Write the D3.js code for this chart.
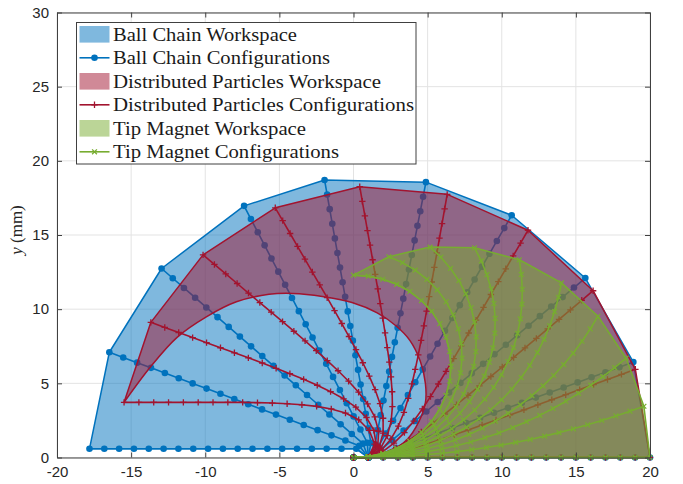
<!DOCTYPE html>
<html>
<head>
<meta charset="utf-8">
<script src="https://cdn.jsdelivr.net/npm/d3@7"></script>
<style>
  body { margin: 0; background: #fff; }
  svg { display: block; }
</style>
</head>
<body>
<svg id="chart" width="683" height="484"></svg>
<script>
// Node spacing along every chain (mm)
const SEG = 1;

// Ball chain: heading of the straight part per configuration (deg) and
// the fraction of that heading taken by each of the 20 links
const blueAngles  = [0, 20, 40, 60, 79, 100, 117.5, 139, 159.5, 180];
const blueProfile = [0, 0.8, 1, 1, 1, 1, 1, 1, 1, 1, 1, 1, 1, 1, 1, 1, 1, 1, 1, 1];

// Distributed particles: field angle per configuration and link heading fractions
const redAngles  = [0, 20, 40, 60, 80, 100, 120, 140, 160, 180];
const redProfile = [0, 0.36, 0.62, 0.75, 0.85, 0.91, 0.945, 0.965, 0.978, 0.986,
                    0.991, 0.995, 0.998, 1, 1, 1, 1, 1, 1, 1];
// Inner edge of the distributed-particles workspace (mm), tip side to base
const redInnerX = [-13.7, -11.9, -9.9, -7.9, -5.7, -4.1, -2.1, -0.1, 1.6, 2.9,
                   3.8, 4.5, 4.85, 4.85, 4.4, 3.6, 2.3, 1.1];
const redInnerY = [6.1, 8.1, 9.5, 10.5, 11.0, 11.06, 10.86, 10.45, 9.75, 8.85,
                   7.9, 6.5, 5.0, 3.7, 2.4, 1.2, 0.35, 0.05];

// Tip magnet: tip angle per configuration and link heading fractions
const greenAngles  = [0, 20, 40, 60, 80, 100, 120, 140, 160, 180];
const greenProfile = [0.0215, 0.0658, 0.112, 0.1598, 0.2092, 0.2601, 0.3121, 0.3651,
                      0.4188, 0.4729, 0.5271, 0.5812, 0.6349, 0.6879, 0.7399, 0.7908,
                      0.8402, 0.888, 0.9342, 0.9785];

const xTicks = [-20, -15, -10, -5, 0, 5, 10, 15, 20];
const yTicks = [0, 5, 10, 15, 20, 25, 30];

const legendLabels = [
  "Ball Chain Workspace", "Ball Chain Configurations",
  "Distributed Particles Workspace", "Distributed Particles Configurations",
  "Tip Magnet Workspace", "Tip Magnet Configurations"
];

const COL = { blue: "#0072BD", red: "#A2142F", green: "#77AC30" };

// ---------------------------------------------------------------------------
const svg = d3.select("#chart");
const x = d3.scaleLinear().domain([-20, 20]).range([57, 650]);
const y = d3.scaleLinear().domain([0, 30]).range([457.5, 12.5]);

// chain nodes from the clamped base at the origin
function chain(angle, profile) {
  const pts = [[0, 0]];
  let px = 0, py = 0;
  profile.forEach(g => {
    const h = angle * g * Math.PI / 180;
    px += SEG * Math.cos(h);
    py += SEG * Math.sin(h);
    pts.push([px, py]);
  });
  return pts;
}

const blueCfg  = blueAngles.map(a => chain(a, blueProfile));
const redCfg   = redAngles.map(a => chain(a, redProfile));
const greenCfg = greenAngles.map(a => chain(a, greenProfile));

const line = d3.line().x(d => x(d[0])).y(d => y(d[1]));
const smooth = d3.line().x(d => x(d[0])).y(d => y(d[1])).curve(d3.curveCatmullRom.alpha(0.5));

// grid
const grid = svg.append("g").attr("stroke", "#e3e3e3").attr("stroke-width", 1);
xTicks.forEach(t => grid.append("line")
  .attr("x1", x(t)).attr("x2", x(t)).attr("y1", y(0)).attr("y2", y(30)));
yTicks.forEach(t => grid.append("line")
  .attr("x1", x(-20)).attr("x2", x(20)).attr("y1", y(t)).attr("y2", y(t)));

// workspace outlines: tips of all configurations, then back along the last one
function workspace(cfgs) {
  const tips = cfgs.map(c => c[c.length - 1]);
  const back = cfgs[cfgs.length - 1].slice(0, -1).reverse();
  return tips.concat(back);
}

function drawWorkspace(d, color) {
  svg.append("path").attr("d", d)
    .attr("fill", color).attr("fill-opacity", 0.5)
    .attr("stroke", color).attr("stroke-width", 1.5)
    .attr("stroke-linejoin", "round");
}

const markers = {
  circle: (g, color) => g.append("circle").attr("r", 3.3).attr("fill", color),
  plus: (g, color) => g.append("path").attr("d", "M-3.2,0H3.2M0,-3.2V3.2")
    .attr("stroke", color).attr("stroke-width", 1.3).attr("fill", "none"),
  cross: (g, color) => g.append("path").attr("d", "M-2.4,-2.4L2.4,2.4M-2.4,2.4L2.4,-2.4")
    .attr("stroke", color).attr("stroke-width", 1.3).attr("fill", "none")
};

function drawConfigs(cfgs, color, marker) {
  cfgs.forEach(c => {
    const g = svg.append("g");
    g.append("path").attr("d", line(c)).attr("fill", "none")
      .attr("stroke", color).attr("stroke-width", 1.6).attr("stroke-linejoin", "round");
    c.forEach(p => {
      const m = g.append("g").attr("transform", `translate(${x(p[0])},${y(p[1])})`);
      markers[marker](m, color);
    });
  });
}

// Ball chain
drawWorkspace(line(workspace(blueCfg)) + "Z", COL.blue);
drawConfigs(blueCfg, COL.blue, "circle");

// Distributed particles
const redTips = redCfg.map(c => c[c.length - 1]);
const redInner = [redTips[redTips.length - 1]].concat(redInnerX.map((v, i) => [v, redInnerY[i]]));
const redPath = line(redTips) + smooth(redInner).replace(/^M/, "L") + "Z";
drawWorkspace(redPath, COL.red);
drawConfigs(redCfg, COL.red, "plus");

// Tip magnet
drawWorkspace(line(workspace(greenCfg)) + "Z", COL.green);
drawConfigs(greenCfg, COL.green, "cross");

// axes (box with inward ticks)
const axisColor = "#404040";
const plain = d => String(d);
function styleAxis(g) {
  g.select(".domain").attr("stroke", axisColor).attr("stroke-width", 1);
  g.selectAll(".tick line").attr("stroke", axisColor);
  g.selectAll(".tick text").attr("fill", "#262626")
    .attr("font-family", "'Liberation Sans', Arial, sans-serif").attr("font-size", 15);
}
svg.append("g").attr("transform", `translate(0,${y(0)})`)
  .call(d3.axisBottom(x).tickValues(xTicks).tickFormat(plain)
    .tickSizeInner(-5).tickSizeOuter(0).tickPadding(9))
  .call(styleAxis);
svg.append("g").attr("transform", `translate(0,${y(30)})`)
  .call(d3.axisTop(x).tickValues(xTicks).tickSizeInner(-5).tickSizeOuter(0).tickFormat(""))
  .call(styleAxis);
svg.append("g").attr("transform", `translate(${x(-20)},0)`)
  .call(d3.axisLeft(y).tickValues(yTicks).tickFormat(plain)
    .tickSizeInner(-5).tickSizeOuter(0).tickPadding(8))
  .call(styleAxis);
svg.append("g").attr("transform", `translate(${x(20)},0)`)
  .call(d3.axisRight(y).tickValues(yTicks).tickSizeInner(-5).tickSizeOuter(0).tickFormat(""))
  .call(styleAxis);

// y axis title
const yt = svg.append("text")
  .attr("transform", "translate(22,230) rotate(-90)")
  .attr("text-anchor", "middle")
  .attr("font-family", "'Liberation Serif', 'Times New Roman', serif")
  .attr("font-size", 17).attr("fill", "#262626");
yt.append("tspan").attr("font-style", "italic").text("y");
yt.append("tspan").text(" (mm)");

// legend
const lg = svg.append("g");
lg.append("rect").attr("x", 76.5).attr("y", 22.5).attr("width", 339.5).attr("height", 141.5)
  .attr("fill", "#fff").attr("stroke", "#404040").attr("stroke-width", 1);
const rowY = [34.3, 57.8, 81.3, 104.8, 128.3, 151.8];
const textW = [184, 217, 268, 301, 193, 226];
const entries = [
  { type: "patch", color: COL.blue },
  { type: "line", color: COL.blue, marker: "circle" },
  { type: "patch", color: COL.red },
  { type: "line", color: COL.red, marker: "plus" },
  { type: "patch", color: COL.green },
  { type: "line", color: COL.green, marker: "cross" }
];
entries.forEach((e, i) => {
  const cy = rowY[i];
  if (e.type === "patch") {
    lg.append("rect").attr("x", 79.5).attr("y", cy - 8.3).attr("width", 30).attr("height", 16.6)
      .attr("fill", e.color).attr("fill-opacity", 0.5);
  } else {
    lg.append("line").attr("x1", 79.5).attr("x2", 109.5).attr("y1", cy).attr("y2", cy)
      .attr("stroke", e.color).attr("stroke-width", 1.6);
    const m = lg.append("g").attr("transform", `translate(94.5,${cy})`);
    markers[e.marker](m, e.color);
  }
  lg.append("text").attr("x", 113).attr("y", cy + 6.3)
    .attr("font-family", "'Liberation Serif', 'Times New Roman', serif")
    .attr("font-size", 18.5).attr("fill", "#1a1a1a")
    .attr("textLength", textW[i]).attr("lengthAdjust", "spacingAndGlyphs")
    .text(legendLabels[i]);
});
</script>
</body>
</html>
